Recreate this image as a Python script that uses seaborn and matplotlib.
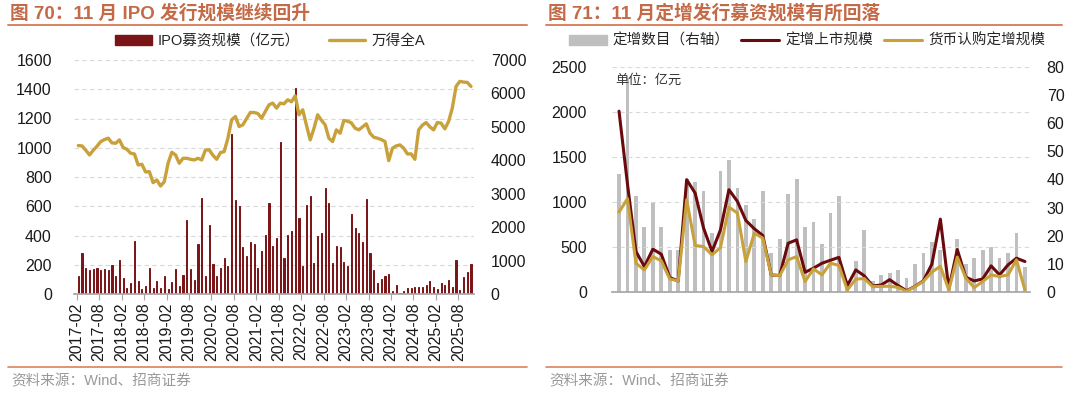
import numpy as np
import pandas as pd
import seaborn as sns
import matplotlib.pyplot as plt
from matplotlib.lines import Line2D
from matplotlib.patches import Patch

# ---- data: figure 70 (IPO) ----
ipo_months = pd.period_range('2017-02', '2025-11', freq='M').strftime('%Y-%m').tolist()
ipo_amount = [123, 283, 178, 165, 168, 178, 167, 169, 165, 201, 123, 233, 110, 41, 73, 363, 89, 32,
              55, 181, 41, 89, 43, 126, 37, 85, 174, 55, 130, 507, 171, 96, 345, 656, 126, 469,
              206, 123, 181, 249, 192, 1097, 645, 599, 318, 263, 357, 343, 178, 295, 405, 622,
              331, 382, 1042, 249, 402, 432, 1410, 517, 194, 610, 667, 210, 395, 418, 725, 620,
              213, 327, 318, 217, 192, 549, 450, 414, 357, 647, 279, 165, 75, 103, 126, 137,
              21, 62, 7, 18, 39, 43, 50, 50, 48, 62, 89, 46, 37, 78, 64, 94, 48, 231, 27, 117,
              151, 203]
wind_all_a = [4440, 4430, 4300, 4160, 4300, 4420, 4560, 4620, 4660, 4520, 4510, 4610, 4380, 4330,
              4210, 4190, 3860, 3880, 3650, 3660, 3330, 3410, 3230, 3360, 3910, 4240, 4160, 3910,
              4060, 4060, 4030, 4010, 4060, 4010, 4310, 4310, 4150, 4030, 4230, 4260, 4660, 5210,
              5310, 5010, 5060, 5250, 5430, 5430, 5400, 5260, 5460, 5660, 5710, 5560, 5710, 5690,
              5810, 5750, 5930, 5360, 5510, 5050, 4610, 4950, 5360, 5200, 5060, 4660, 4560, 4910,
              4810, 5190, 5170, 5120, 4960, 4910, 5000, 5090, 4810, 4690, 4660, 4620, 4560, 3990,
              4360, 4430, 4460, 4360, 4190, 4190, 4030, 4910, 5050, 5130, 5000, 4910, 5130, 5110,
              4940, 5160, 5560, 6210, 6360, 6340, 6330, 6210]

# ---- data: figure 71 (private placements) ----
pp_months = pd.period_range('2021-11', '2025-11', freq='M').strftime('%Y-%m').tolist()
pp_count = [42, 76, 34, 23, 32, 23, 15, 15, 40, 39, 36, 21, 43, 47, 37, 31, 26, 36, 14, 19, 35, 40,
            23, 25, 17, 28, 34, 4, 11, 22, 4, 6, 7, 8, 5, 10, 14, 18, 15, 3, 19, 10, 12, 15, 16,
            12, 14, 21, 9]
pp_listed = [2007, 1200, 452, 285, 478, 422, 163, 126, 1248, 1100, 711, 452, 693, 1137, 1007, 796,
             704, 630, 193, 185, 544, 581, 222, 267, 322, 355, 387, 75, 248, 183, 70, 81, 140, 75,
             17, 66, 128, 313, 811, 40, 474, 168, 126, 148, 293, 193, 304, 378, 341]
pp_cash = [889, 1037, 322, 248, 396, 348, 148, 126, 1026, 519, 507, 415, 496, 944, 878, 341, 656,
           600, 193, 185, 359, 396, 119, 259, 193, 322, 298, 26, 146, 152, 63, 65, 68, 54, 11, 63,
           122, 224, 289, 26, 390, 160, 52, 119, 193, 174, 193, 359, 26]

ipo_df = pd.DataFrame({'month': ipo_months, 'amount': ipo_amount, 'index': wind_all_a})
ipo_df['i'] = np.arange(len(ipo_df))
pp_df = pd.DataFrame({'month': pp_months, 'count': pp_count, 'listed': pp_listed, 'cash': pp_cash})
pp_df['i'] = np.arange(len(pp_df))

# ---- style ----
sns.set_theme(style='white')
plt.rcParams['font.family'] = ['Liberation Sans', 'Noto Sans CJK SC', 'DejaVu Sans']
plt.rcParams['axes.unicode_minus'] = False

W, H = 1080, 393
TITLE_C = '#C46A47'
MAROON = '#7A1417'
GOLD = '#C9A13B'
DARKRED = '#6B0A0C'
GREY = '#BFBFBF'


def box(x0, y0, x1, y1):
    # pixel box (top-left origin) -> figure fraction rect
    return [x0 / W, 1 - y1 / H, (x1 - x0) / W, (y1 - y0) / H]


def style_axis(ax, twin):
    for s in ['top', 'left', 'right']:
        ax.spines[s].set_visible(False)
        twin.spines[s].set_visible(False)
    twin.spines['bottom'].set_visible(False)
    ax.spines['bottom'].set_color('#A6A6A6')
    ax.tick_params(axis='x', length=4, width=0.8, color='#A6A6A6', pad=2,
                   labelsize=11.5, labelcolor='#1a1a1a', bottom=True)
    ax.tick_params(axis='y', length=0, pad=16, labelsize=11.5, labelcolor='#1a1a1a')
    twin.tick_params(axis='y', length=0, pad=12, labelsize=11.5, labelcolor='#1a1a1a')
    ax.yaxis.grid(True, color='#D9D9D9', linestyle=(0, (4, 3)), linewidth=0.8)
    ax.set_xlabel('')
    ax.set_ylabel('')
    twin.set_ylabel('')


fig = plt.figure(figsize=(W / 100, H / 100), dpi=100)

# ================= left panel =================
ax = fig.add_axes(box(74, 60, 474, 294))
sns.barplot(data=ipo_df, x='month', y='amount', color=MAROON, saturation=1,
            width=0.3, errorbar=None, ax=ax, zorder=2,
            edgecolor=MAROON, linewidth=0.7)
ax2 = ax.twinx()
sns.lineplot(data=ipo_df, x='i', y='index', color=GOLD, linewidth=2.4, ax=ax2)
ax.set_ylim(0, 1600)
ax.set_yticks(range(0, 1601, 200))
ax2.set_ylim(0, 7000)
ax2.set_yticks(range(0, 7001, 1000))
step = 6
ax.set_xticks(ipo_df['i'][::step] - 0.4)
ax.set_xticklabels(ipo_df['month'][::step], rotation=90)
ax.set_xlim(-1.15, len(ipo_df) - 0.2)
ax.set_axisbelow(True)
style_axis(ax, ax2)

fig.legend(handles=[Patch(color=MAROON, label='IPO募资规模（亿元）'),
                    Line2D([], [], color=GOLD, lw=2.4, label='万得全A')],
           loc='center', bbox_to_anchor=(270 / W, 1 - 41 / H), ncol=2, frameon=False,
           fontsize=10.5, handlelength=2.5, handleheight=0.6, handletextpad=0.4,
           columnspacing=2.0)

# ================= right panel =================
axr = fig.add_axes(box(612, 66.7, 1030, 292.3))
axr2 = axr.twinx()
sns.barplot(data=pp_df, x='month', y='count', color=GREY, saturation=1,
            width=0.45, errorbar=None, ax=axr2, linewidth=0)
sns.lineplot(data=pp_df, x='i', y='listed', color=DARKRED, linewidth=2.2, ax=axr)
sns.lineplot(data=pp_df, x='i', y='cash', color=GOLD, linewidth=2.2, ax=axr)
axr.set_zorder(axr2.get_zorder() + 1)
axr.patch.set_visible(False)
axr.set_ylim(0, 2500)
axr.set_yticks(range(0, 2501, 500))
axr2.set_ylim(0, 80)
axr2.set_yticks(range(0, 81, 10))
step = 3
axr.set_xticks(pp_df['i'][::step] - 0.4)
axr.set_xticklabels(pp_df['month'][::step], rotation=90)
axr2.set_xticks([])
axr.set_xlim(-0.83, len(pp_df) - 0.4)
style_axis(axr, axr2)
axr.tick_params(axis='y', pad=18)
axr.text(-0.5, 2350, '单位：亿元', fontsize=9.5, color='#333333', va='center', ha='left')

fig.legend(handles=[Patch(color=GREY, label='定增数目（右轴）'),
                    Line2D([], [], color=DARKRED, lw=2.2, label='定增上市规模'),
                    Line2D([], [], color=GOLD, lw=2.2, label='货币认购定增规模')],
           loc='center', bbox_to_anchor=(807 / W, 1 - 41 / H), ncol=3, frameon=False,
           fontsize=10.5, handlelength=2.6, handleheight=0.6, handletextpad=0.4,
           columnspacing=0.8)

# ================= titles, rules, sources =================
for x0, x1, title in [(8, 527, '图 70：11 月 IPO 发行规模继续回升'),
                      (546, 1062, '图 71：11 月定增发行募资规模有所回落')]:
    fig.text((x0 + 2) / W, 1 - 13 / H, title, fontsize=13.5, fontweight='bold',
             color=TITLE_C, va='center', ha='left')
    fig.add_artist(Line2D([x0 / W, x1 / W], [1 - 25 / H, 1 - 25 / H],
                          transform=fig.transFigure, color='#D9825F', lw=1.4))
    fig.add_artist(Line2D([x0 / W, x1 / W], [1 - 367 / H, 1 - 367 / H],
                          transform=fig.transFigure, color='#D9825F', lw=1.2))
    fig.text((x0 + 3) / W, 1 - 381 / H, '资料来源：Wind、招商证券', fontsize=10.5,
             color='#999999', va='center', ha='left')

fig.savefig('out.png', dpi=100)
